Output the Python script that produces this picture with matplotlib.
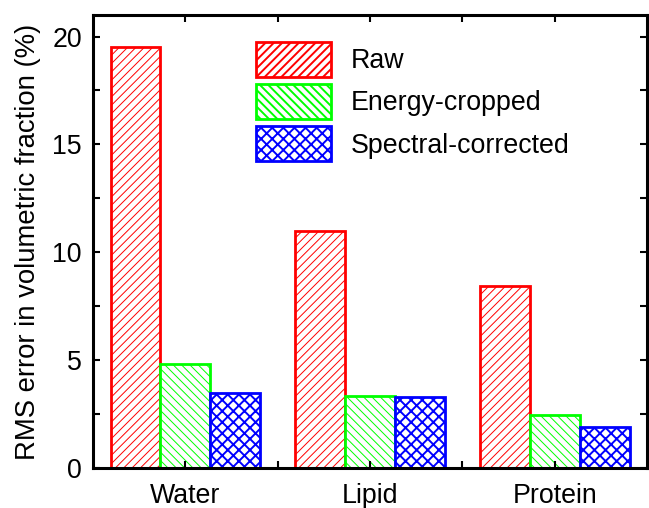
import matplotlib
matplotlib.use('Agg')
import matplotlib.pyplot as plt
import numpy as np

# valores
grupos = ['Water', 'Lipid', 'Protein']
raw = [19.5, 11.0, 8.45]
energy_cropped = [4.8, 3.35, 2.45]
spectral_corrected = [3.5, 3.3, 1.9]

series = ['Raw', 'Energy-cropped', 'Spectral-corrected']
cores = ['#ff0000', '#00ff00', '#0000ff']
hachuras = ['////', '\\\\\\\\', 'xxx']
hatch_lw = [0.7, 0.7, 1.4]


def main():
    plt.rcParams['font.family'] = ['Liberation Sans', 'DejaVu Sans']
    fig = plt.figure(figsize=(6.49, 5.08), dpi=100)
    ax = fig.add_axes([0.1433, 0.0787, 0.8537, 0.8918])

    x = np.arange(1, len(grupos) + 1)
    w = 0.27
    dados = [raw, energy_cropped, spectral_corrected]
    for i, vals in enumerate(dados):
        plt.rcParams['hatch.linewidth'] = hatch_lw[i]
        bars = ax.bar(x + (i - 1) * w, vals, width=w, color='white',
                      edgecolor=cores[i], hatch=hachuras[i], linewidth=2,
                      label=series[i])
        for b in bars:
            try:
                b.set_hatch_linewidth(hatch_lw[i])
            except AttributeError:
                pass

    fs = 19.3
    ax.set_xlim(0.5, 3.5)
    ax.set_ylim(0, 21)
    ax.set_xticks(x)
    ax.set_xticklabels(grupos)
    ax.set_xticks([1.5, 2.5], minor=True)
    ax.set_yticks([0, 5, 10, 15, 20])
    ax.set_yticks([2.5, 7.5, 12.5, 17.5], minor=True)
    ax.tick_params(which='both', direction='in', top=True, right=True,
                   width=1.5, length=5, labelsize=fs)
    ax.tick_params(axis='x', which='major', pad=11)
    ax.tick_params(axis='y', which='major', pad=8)
    for s in ax.spines.values():
        s.set_linewidth(2.2)

    ax.set_ylabel('RMS error in volumetric fraction (%)', fontsize=19.8,
                  labelpad=8)

    ax.legend(loc='upper left', bbox_to_anchor=(0.274, 0.965), frameon=False,
              fontsize=fs, handlelength=2.8, handleheight=1.65,
              labelspacing=0.26, handletextpad=0.75, borderaxespad=0)

    fig.savefig('out.png', dpi=100)


if __name__ == '__main__':
    main()
